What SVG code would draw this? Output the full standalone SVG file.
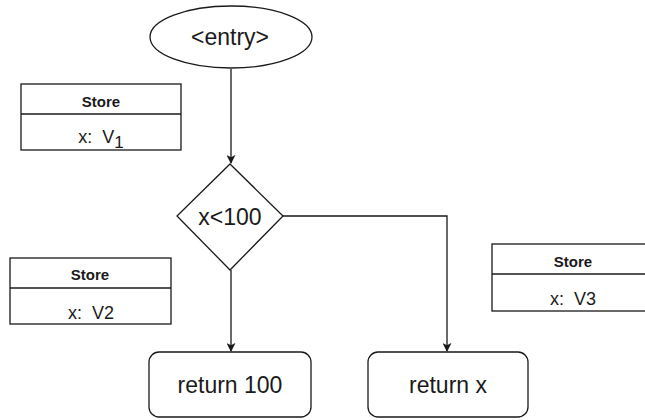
<svg xmlns="http://www.w3.org/2000/svg" width="645" height="420" viewBox="0 0 645 420">
  <defs>
    <marker id="arrow" viewBox="0 0 10 10" refX="9" refY="5" markerWidth="9" markerHeight="9" markerUnits="userSpaceOnUse" orient="auto">
      <path d="M0,0 L10,5 L0,10 L2.5,5 Z" fill="#1a1a1a"/>
    </marker>
  </defs>
  <style>
    .shape { fill: #ffffff; stroke: #1a1a1a; stroke-width: 1.3; }
    .edge { fill: none; stroke: #1a1a1a; stroke-width: 1.3; }
    .label { font-family: "Liberation Sans", Arial, sans-serif; fill: #1a1a1a; text-anchor: middle; }
    .big { font-size: 23px; }
    .title { font-size: 15px; font-weight: bold; }
    .val { font-size: 18px; }
  </style>
  <rect width="645" height="420" fill="#ffffff"/>

  <g id="connectors">
    <path class="edge" d="M231,69 L231,163" marker-end="url(#arrow)"/>
    <path class="edge" d="M231,270 L231,351" marker-end="url(#arrow)"/>
    <path class="edge" d="M283,216 L447,216 L447,351" marker-end="url(#arrow)"/>
  </g>

  <g id="entry">
    <ellipse class="shape" cx="231" cy="37" rx="81" ry="31"/>
    <text class="label big" x="230" y="45">&lt;entry&gt;</text>
  </g>

  <g id="cond">
    <polygon class="shape" points="230,164 283,216 230,270 177,216"/>
    <text class="label big" x="230" y="225">x&lt;100</text>
  </g>

  <g id="ret100">
    <rect class="shape" x="149" y="352" width="162" height="65" rx="10"/>
    <text class="label big" x="230" y="393">return 100</text>
  </g>

  <g id="retx">
    <rect class="shape" x="368" y="352" width="160" height="65" rx="10"/>
    <text class="label big" x="448" y="393">return x</text>
  </g>

  <g id="store1">
    <rect class="shape" x="21" y="84" width="160" height="66"/>
    <line class="edge" x1="21" y1="114" x2="181" y2="114"/>
    <text class="label title" x="101" y="107">Store</text>
    <text class="label val" x="101" y="143">x:&#160; V<tspan font-size="17" dy="5">1</tspan></text>
  </g>

  <g id="store2">
    <rect class="shape" x="10" y="258" width="161" height="66"/>
    <line class="edge" x1="10" y1="288" x2="171" y2="288"/>
    <text class="label title" x="90" y="280">Store</text>
    <text class="label val" x="91" y="319">x:&#160; V2</text>
  </g>

  <g id="store3">
    <rect class="shape" x="492" y="244" width="170" height="67"/>
    <line class="edge" x1="492" y1="274" x2="645" y2="274"/>
    <text class="label title" x="573" y="267">Store</text>
    <text class="label val" x="573" y="305">x:&#160; V3</text>
  </g>
</svg>
